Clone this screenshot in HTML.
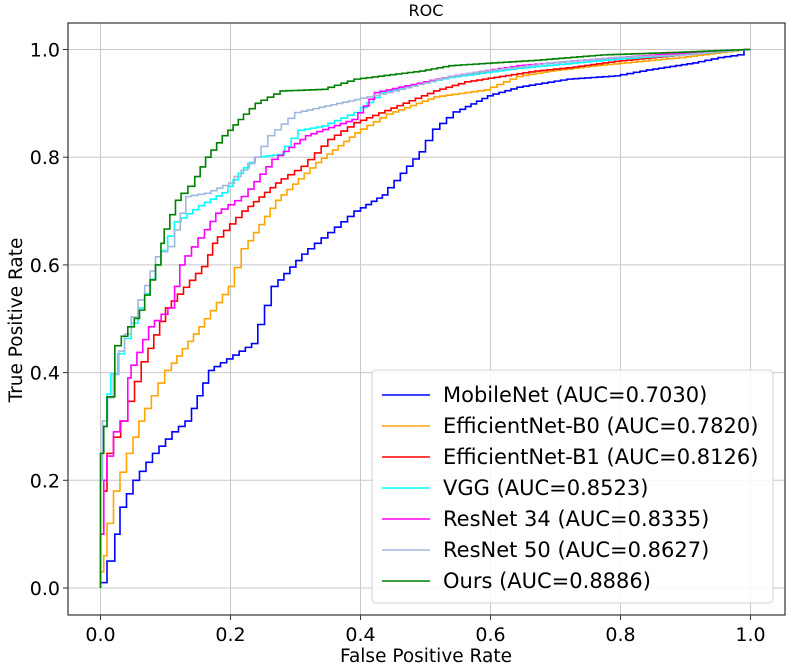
<!DOCTYPE html>
<html><head><meta charset="utf-8"><style>
body{margin:0;background:#fff;}
svg text{font-family:"DejaVu Sans","Liberation Sans",sans-serif;fill:#000;}
</style></head><body>
<svg id="chart" width="786" height="667" xmlns="http://www.w3.org/2000/svg">
<rect width="786" height="667" fill="#fff"/>
<text x="426" y="16" font-size="16" text-anchor="middle">ROC</text>
<g id="grid"></g>
<g id="curves"></g>
<rect x="68" y="23" width="717" height="592" fill="none" stroke="#333" stroke-width="1.2"/>
<g id="ticks"></g>
<text x="426" y="662" font-size="18.5" text-anchor="middle">False Positive Rate</text>
<text transform="translate(22,320) rotate(-90)" font-size="18.5" text-anchor="middle">True Positive Rate</text>
<g id="legend"></g>
</svg>
<script>
const seriesNames=["MobileNet (AUC=0.7030)","EfficientNet-B0 (AUC=0.7820)","EfficientNet-B1 (AUC=0.8126)","VGG (AUC=0.8523)","ResNet 34 (AUC=0.8335)","ResNet 50 (AUC=0.8627)","Ours (AUC=0.8886)"];
const seriesColors=["#0000ff","#ffa500","#ff0000","#00ffff","#ff00ff","#a0b8dc","#008000"];
const xTicks=[0,0.2,0.4,0.6,0.8,1.0];
const yTicks=[0,0.2,0.4,0.6,0.8,1.0];
const mobileNet=[[0,0],[0.01,0.01],[0.022,0.05],[0.03,0.1],[0.04,0.15],[0.06,0.2],[0.09,0.25],[0.12,0.29],[0.14,0.31],[0.175,0.404],[0.242,0.454],[0.273,0.56],[0.319,0.62],[0.36,0.66],[0.40,0.70],[0.442,0.73],[0.50,0.81],[0.522,0.852],[0.553,0.884],[0.604,0.914],[0.65,0.93],[0.727,0.945],[0.80,0.951],[0.85,0.962],[0.92,0.975],[0.96,0.985],[0.99,0.99],[1,1]];
const effB0=[[0,0],[0.005,0.03],[0.01,0.06],[0.02,0.12],[0.03,0.18],[0.05,0.25],[0.068,0.31],[0.109,0.404],[0.16,0.485],[0.206,0.56],[0.227,0.63],[0.278,0.72],[0.34,0.79],[0.40,0.845],[0.45,0.88],[0.522,0.912],[0.6,0.925],[0.65,0.95],[0.70,0.96],[0.77,0.97],[0.9,0.985],[1,1]];
const effB1=[[0,0],[0.005,0.1],[0.01,0.18],[0.02,0.25],[0.042,0.31],[0.073,0.42],[0.109,0.52],[0.165,0.597],[0.18,0.64],[0.227,0.70],[0.278,0.752],[0.319,0.783],[0.36,0.833],[0.40,0.864],[0.522,0.923],[0.57,0.94],[0.677,0.96],[0.727,0.966],[0.8,0.978],[0.9,0.99],[1,1]];
const vgg=[[0,0],[0.003,0.2],[0.01,0.3],[0.016,0.36],[0.037,0.435],[0.068,0.52],[0.093,0.60],[0.124,0.68],[0.16,0.71],[0.196,0.734],[0.22,0.77],[0.247,0.80],[0.283,0.805],[0.314,0.85],[0.35,0.858],[0.40,0.883],[0.44,0.92],[0.545,0.948],[0.65,0.965],[0.8,0.982],[0.9,0.99],[1,1]];
const resnet34=[[0,0],[0.005,0.1],[0.01,0.2],[0.03,0.29],[0.042,0.31],[0.047,0.39],[0.083,0.485],[0.114,0.52],[0.13,0.60],[0.16,0.65],[0.186,0.696],[0.227,0.727],[0.273,0.796],[0.324,0.84],[0.396,0.87],[0.43,0.92],[0.545,0.95],[0.65,0.97],[0.8,0.985],[0.9,0.993],[1,1]];
const resnet50=[[0,0],[0.003,0.2],[0.011,0.31],[0.037,0.44],[0.068,0.535],[0.093,0.615],[0.114,0.634],[0.14,0.727],[0.17,0.733],[0.206,0.752],[0.247,0.80],[0.268,0.84],[0.309,0.883],[0.40,0.907],[0.45,0.92],[0.545,0.95],[0.6,0.96],[0.7,0.975],[0.8,0.985],[0.9,0.99],[1,1]];
const ours=[[0,0],[0,0.15],[0.005,0.25],[0.01,0.3],[0.022,0.355],[0.032,0.45],[0.052,0.485],[0.068,0.516],[0.093,0.60],[0.098,0.64],[0.124,0.72],[0.145,0.746],[0.17,0.80],[0.196,0.84],[0.22,0.87],[0.247,0.90],[0.286,0.923],[0.35,0.926],[0.40,0.945],[0.50,0.96],[0.545,0.97],[0.677,0.98],[0.78,0.99],[0.9,0.995],[1,1]];
const allSeries=[mobileNet,effB0,effB1,vgg,resnet34,resnet50,ours];
const keys=["mobilenet","efficientnet-b0","efficientnet-b1","vgg","resnet-34","resnet-50","ours"];
const NS="http://www.w3.org/2000/svg";
const xs=v=>100.5+v*650;
const ys=v=>588-v*538.5;
function mk(tag,attrs,parent){const e=document.createElementNS(NS,tag);for(const k in attrs)e.setAttribute(k,attrs[k]);parent.appendChild(e);return e;}
const grid=document.getElementById('grid'),ticks=document.getElementById('ticks');
xTicks.forEach(t=>{
 const g=mk('line',{x1:xs(t),x2:xs(t),y1:23,y2:615,stroke:'#c8c8c8','stroke-width':1},grid);
 
 
 const tk=mk('line',{x1:xs(t),x2:xs(t),y1:615,y2:620,stroke:'#333'},ticks);
 
 
 const tx=mk('text',{x:xs(t),y:641,'font-size':19,'text-anchor':'middle'},ticks);tx.textContent=t.toFixed(1);
 
 
});
yTicks.forEach(t=>{
 const g=mk('line',{x1:68,x2:785,y1:ys(t),y2:ys(t),stroke:'#c8c8c8','stroke-width':1},grid);
 
 
 const tk=mk('line',{x1:63,x2:68,y1:ys(t),y2:ys(t),stroke:'#333'},ticks);
 
 
 const tx=mk('text',{x:60,y:ys(t)+7,'font-size':19,'text-anchor':'end'},ticks);tx.textContent=t.toFixed(1);
 
 
});
const curves=document.getElementById('curves');
allSeries.forEach((s,i)=>{
 let d='M'+xs(s[0][0])+','+ys(s[0][1]);
 for(let j=1;j<s.length;j++){
  const x0=s[j-1][0],y0=s[j-1][1],x1=s[j][0],y1=s[j][1];
  const n=Math.max(1,Math.round((x1-x0)*650/6));
  for(let k=1;k<=n;k++){
   const yy=y0+(y1-y0)*k/n, xx=x0+(x1-x0)*k/n;
   d+=' V'+ys(yy)+' H'+xs(xx);
  }
 }
 const p=mk('path',{d:d,fill:'none',stroke:seriesColors[i],'stroke-width':1.6},curves);
 
 
});
const leg=document.getElementById('legend');
const box=mk('rect',{x:372,y:370,width:401,height:233,rx:4,fill:'#fff','fill-opacity':0.85,stroke:'#d0d0d0'},leg);


seriesNames.forEach((n,i)=>{
 const y=395+i*31;
 const l=mk('line',{x1:382,x2:430,y1:y,y2:y,stroke:seriesColors[i],'stroke-width':1.6},leg);
 
 
 const t=mk('text',{x:443,y:y+7,'font-size':21},leg);t.textContent=n;
 
 
});
</script>
</body></html>
